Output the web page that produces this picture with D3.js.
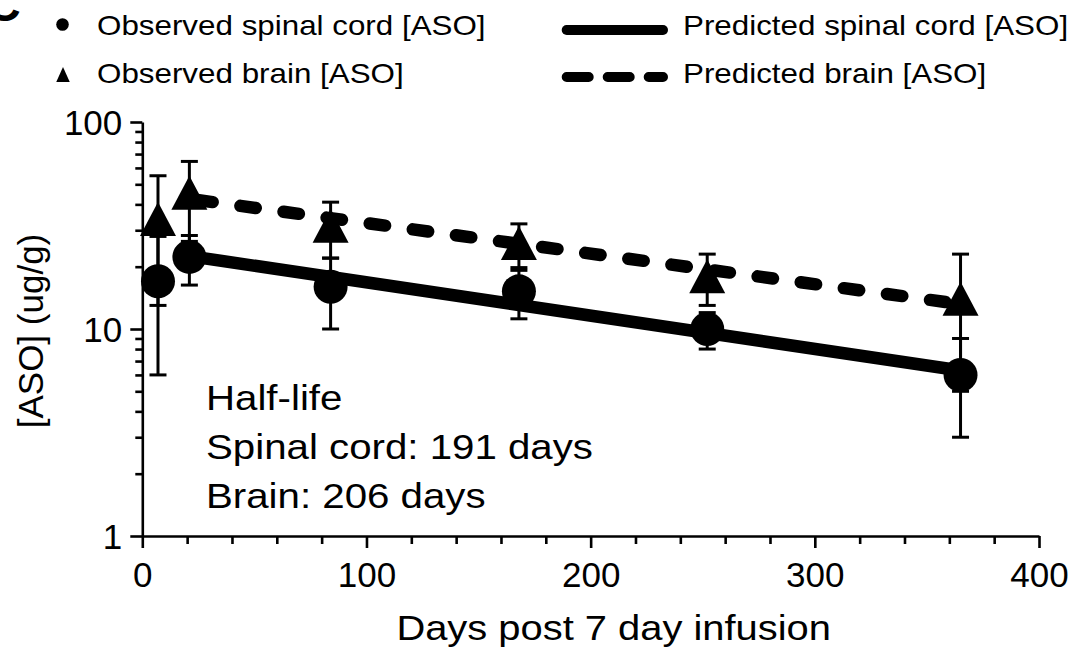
<!DOCTYPE html>
<html>
<head>
<meta charset="utf-8">
<script src="https://cdn.jsdelivr.net/npm/d3@7"></script>
<style>
  html, body { margin: 0; padding: 0; background: #fff; }
  svg { display: block; font-family: "Liberation Sans", Arial, sans-serif; }
</style>
</head>
<body>
<svg id="chart" width="1075" height="664"></svg>
<script>
// Sampling days after the 7 day infusion
const days = [7, 21, 84, 168, 252, 365];

// Observed ASO concentration (ug/g), mean and SD
const spinalMean = [17, 22.3, 16, 15.2, 10, 6];
const spinalSD   = [11, 6, 6, 4, 2, 3];
const brainMean  = [34, 45.5, 31.5, 26, 18, 14];
const brainSD    = [21, 19, 9.5, 6.2, 5, 9];

// Predicted (first-order elimination) curves
const predDays   = [21, 365];
const predSpinal = [22.5, 6.3];
const predBrain  = [42.5, 13.2];

// Axis ticks
const xMajor = [0, 100, 200, 300, 400];
const yMajor = [1, 10, 100];

const legendItems = [
  "Observed spinal cord [ASO]",
  "Observed brain [ASO]",
  "Predicted spinal cord [ASO]",
  "Predicted brain [ASO]"
];
const noteLines = ["Half-life", "Spinal cord: 191 days", "Brain: 206 days"];

const svg = d3.select("#chart");

const x = d3.scaleLinear().domain([0, 400]).range([142.3, 1039]);
const y = d3.scaleLog().domain([1, 100]).range([536, 122]);

const xMinor = d3.range(0, 401, 20).filter(d => d % 100 !== 0);
const yMinor = [];
[1, 10].forEach(dec => { for (let k = 2; k <= 9; k++) yMinor.push(dec * k); });

// ---- axes ----
const axisColor = "#000";
const gx = svg.append("g").attr("transform", `translate(0,${y(1)})`);
gx.call(d3.axisBottom(x).tickValues(xMajor).tickSize(12).tickSizeOuter(0).tickPadding(6)
        .tickFormat(d3.format("d")));
const gxm = svg.append("g").attr("transform", `translate(0,${y(1)})`);
gxm.call(d3.axisBottom(x).tickValues(xMinor).tickSize(8).tickSizeOuter(0).tickFormat(""));
gxm.select(".domain").remove();

const gy = svg.append("g").attr("transform", `translate(${x(0)},0)`);
gy.call(d3.axisLeft(y).tickValues(yMajor).tickSize(12).tickSizeOuter(0).tickPadding(8)
        .tickFormat(d3.format("d")));
const gym = svg.append("g").attr("transform", `translate(${x(0)},0)`);
gym.call(d3.axisLeft(y).tickValues(yMinor).tickSize(7).tickSizeOuter(0).tickFormat(""));
gym.select(".domain").remove();

svg.selectAll(".domain, .tick line")
  .attr("stroke", axisColor).attr("stroke-width", 2.6);
svg.selectAll(".tick text")
  .attr("fill", "#000")
  .style("font-family", '"Liberation Sans", Arial, sans-serif')
  .style("font-size", "35px");
gx.selectAll(".tick text").attr("dy", "0.95em");
gy.selectAll(".tick text").attr("dy", "0.36em");

// horizontally widened text
function stretchText(parent, str, tx, ty, size, sx, anchor) {
  return parent.append("text")
    .attr("transform", `translate(${tx},${ty}) scale(${sx},1)`)
    .attr("text-anchor", anchor || "start")
    .style("font-size", size + "px")
    .attr("fill", "#000")
    .text(str);
}

// axis titles
stretchText(svg, "Days post 7 day infusion", (x(0) + x(400)) / 2 + 23, 640, 35, 1.14, "middle");
svg.append("text")
  .attr("transform", `translate(43,331) rotate(-90)`)
  .attr("text-anchor", "middle")
  .style("font-size", "35px")
  .text("[ASO] (ug/g)");

// ---- data marks ----
const plot = svg.append("g");
const capHalf = 8.5;

function errorBars(means, sds) {
  const g = plot.append("g").attr("stroke", "#000").attr("stroke-width", 3);
  days.forEach((d, i) => {
    const lo = means[i] - sds[i], hi = means[i] + sds[i];
    const cx = x(d);
    g.append("line").attr("x1", cx).attr("x2", cx).attr("y1", y(lo)).attr("y2", y(hi));
    g.append("line").attr("x1", cx - capHalf).attr("x2", cx + capHalf).attr("y1", y(lo)).attr("y2", y(lo));
    g.append("line").attr("x1", cx - capHalf).attr("x2", cx + capHalf).attr("y1", y(hi)).attr("y2", y(hi));
  });
}
errorBars(spinalMean, spinalSD);
errorBars(brainMean, brainSD);

const line = vals => d3.line().x((d, i) => x(predDays[i])).y((d) => y(d))(vals);

plot.append("path")
  .attr("d", line(predSpinal))
  .attr("fill", "none").attr("stroke", "#000").attr("stroke-width", 12.5)
  .attr("stroke-linecap", "butt");

plot.append("path")
  .attr("d", line(predBrain))
  .attr("fill", "none").attr("stroke", "#000").attr("stroke-width", 12.5)
  .attr("stroke-linecap", "round").attr("stroke-dasharray", "15.5,28")
  .attr("stroke-dashoffset", -8);

// triangle centred on its bounding box
function triPath(w, h) {
  return `M0,${-h / 2}L${w / 2},${h / 2}L${-w / 2},${h / 2}Z`;
}

plot.append("g").selectAll("circle").data(days).join("circle")
  .attr("cx", d => x(d)).attr("cy", (d, i) => y(spinalMean[i])).attr("r", 17)
  .attr("fill", "#000");

plot.append("g").selectAll("path").data(days).join("path")
  .attr("transform", (d, i) => `translate(${x(d)},${y(brainMean[i])})`)
  .attr("d", triPath(36, 34))
  .attr("fill", "#000");

// ---- annotation ----
noteLines.forEach((t, i) => stretchText(svg, t, 206, 410 + i * 49, 35, 1.15));

// ---- legend ----
const lg = svg.append("g");
lg.append("circle").attr("cx", 62.5).attr("cy", 24.5).attr("r", 6.3).attr("fill", "#000");
lg.append("path").attr("transform", "translate(63,74.5)").attr("d", triPath(13.5, 15)).attr("fill", "#000");
lg.append("line").attr("x1", 566.7).attr("x2", 663).attr("y1", 30).attr("y2", 30)
  .attr("stroke", "#000").attr("stroke-width", 10).attr("stroke-linecap", "round");
lg.append("line").attr("x1", 566.7).attr("x2", 663).attr("y1", 77).attr("y2", 77)
  .attr("stroke", "#000").attr("stroke-width", 10).attr("stroke-linecap", "round")
  .attr("stroke-dasharray", "22,19");
stretchText(lg, legendItems[0], 97, 34.5, 28, 1.12);
stretchText(lg, legendItems[1], 97, 83, 28, 1.12);
stretchText(lg, legendItems[2], 683, 34.5, 28, 1.12);
stretchText(lg, legendItems[3], 683, 83, 28, 1.12);

// panel letter, partly off the canvas
svg.append("text").attr("x", -14).attr("y", 21)
  .style("font-size", "48px").style("font-weight", "bold").text("C");
</script>
</body>
</html>
